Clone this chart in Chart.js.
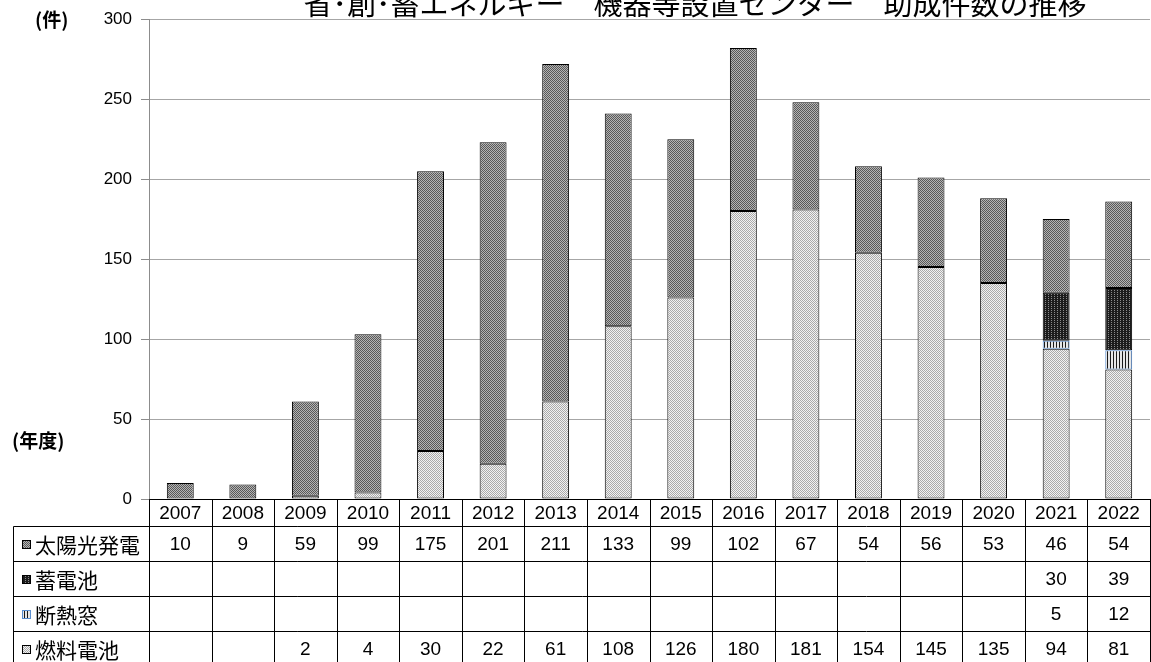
<!DOCTYPE html>
<html lang="ja">
<head>
<meta charset="utf-8">
<title>助成件数の推移</title>
<script src="https://cdn.jsdelivr.net/npm/chart.js@4"></script>
<style>
  html, body { margin: 0; padding: 0; background: #fff; }
  canvas { display: block; }
</style>
</head>
<body>
<canvas id="chart" width="1151" height="662"></canvas>
<script>
// 年度ごとの助成件数
const years = ['2007', '2008', '2009', '2010', '2011', '2012', '2013', '2014',
               '2015', '2016', '2017', '2018', '2019', '2020', '2021', '2022'];
const solar    = [10, 9, 59, 99, 175, 201, 211, 133, 99, 102, 67, 54, 56, 53, 46, 54];
const battery  = [null, null, null, null, null, null, null, null, null, null, null, null, null, null, 30, 39];
const windows  = [null, null, null, null, null, null, null, null, null, null, null, null, null, null, 5, 12];
const fuelCell = [null, null, 2, 4, 30, 22, 61, 108, 126, 180, 181, 154, 145, 135, 94, 81];
const yTicks = [0, 50, 100, 150, 200, 250, 300];

const titleText = '省･創･蓄エネルギー　機器等設置センター　助成件数の推移';

// small bitmap fills, like the hatched fills of an office chart
function makePattern(w, h, bg, fg, dots) {
  const c = document.createElement('canvas');
  c.width = w; c.height = h;
  const g = c.getContext('2d');
  g.fillStyle = bg;
  g.fillRect(0, 0, w, h);
  g.fillStyle = fg;
  dots.forEach(([px, py]) => g.fillRect(px, py, 1, 1));
  return g.createPattern(c, 'repeat');
}

const ctx = document.getElementById('chart').getContext('2d');
const fill = {
  solar: makePattern(2, 2, '#b4b4b4', '#585858', [[0, 0], [1, 1]]),
  battery: makePattern(3, 2, '#1c1c1c', '#8c8c8c', [[1, 0]]),
  windows: makePattern(3, 1, '#e6e6e6', '#1a1a1a', [[0, 0]]),
  fuel: makePattern(2, 2, '#f2f2f2', '#aaaaaa', [[0, 0], [1, 1]])
};

// rows of the data table, top to bottom
const tableRows = [
  { name: '太陽光発電', values: solar, fill: fill.solar, border: '#000' },
  { name: '蓄電池', values: battery, fill: fill.battery, border: '#000' },
  { name: '断熱窓', values: windows, fill: fill.windows, border: '#5b8fd0' },
  { name: '燃料電池', values: fuelCell, fill: fill.fuel, border: '#000' }
];

const numFont = '19px "Liberation Sans", Arial, sans-serif';
const jpFont = '"Noto Sans CJK JP", "Noto Sans", sans-serif';

const tablePlugin = {
  id: 'dataTable',
  afterDraw(chart) {
    const c = chart.ctx;
    const area = chart.chartArea;
    const xs = chart.scales.x;
    const W = chart.width;
    const colW = (area.right - area.left) / years.length;
    const top = Math.round(area.bottom) + 0.5;
    const yearH = 27, rowH = 35, tableLeft = 13.5;
    const rowsTop = top + yearH;
    const bottom = rowsTop + rowH * tableRows.length;

    c.save();
    c.strokeStyle = '#000';
    c.lineWidth = 1;
    c.beginPath();
    c.moveTo(Math.round(area.left) + 0.5, top); c.lineTo(W, top);
    for (let r = 0; r <= tableRows.length; r++) {
      const y = rowsTop + r * rowH;
      c.moveTo(tableLeft, y); c.lineTo(W, y);
    }
    c.moveTo(tableLeft, rowsTop); c.lineTo(tableLeft, bottom);
    for (let i = 0; i <= years.length; i++) {
      const x = Math.round(xs.getPixelForTick(Math.min(i, years.length - 1)) + (i === years.length ? colW / 2 : -colW / 2)) + 0.5;
      c.moveTo(x, top); c.lineTo(x, bottom);
    }
    c.stroke();

    c.fillStyle = '#000';
    c.textAlign = 'center';
    c.textBaseline = 'middle';
    c.font = numFont;
    years.forEach((yr, i) => {
      const cx = xs.getPixelForTick(i);
      c.fillText(yr, cx, top + yearH / 2 + 1);
      tableRows.forEach((row, r) => {
        const v = row.values[i];
        if (v !== null) c.fillText(String(v), cx, rowsTop + r * rowH + rowH / 2 + 1);
      });
    });

    // legend keys and series names
    c.textAlign = 'left';
    c.font = '21px ' + jpFont;
    tableRows.forEach((row, r) => {
      const cy = rowsTop + r * rowH + rowH / 2;
      c.fillStyle = row.fill;
      c.fillRect(22, Math.round(cy - 4), 9, 9);
      c.strokeStyle = row.border;
      c.strokeRect(22.5, Math.round(cy - 4) + 0.5, 8, 8);
      c.fillStyle = '#000';
      c.fillText(row.name, 35, cy + 1);
    });

    // unit and category captions
    c.font = 'bold 19px ' + jpFont;
    c.fillText('(件)', 35, 20);
    c.fillText('(年度)', 12, 441);

    c.font = '29px ' + jpFont;
    c.textAlign = 'center';
    c.fillText(titleText, 695, 4);
    c.restore();
  }
};

// black zero line drawn over the grid
const baselinePlugin = {
  id: 'baseline',
  afterDatasetsDraw(chart) {
    const c = chart.ctx;
    const y = Math.round(chart.scales.y.getPixelForValue(0)) + 0.5;
    c.save();
    c.strokeStyle = '#000';
    c.beginPath();
    c.moveTo(Math.round(chart.chartArea.left) + 0.5, y);
    c.lineTo(chart.width, y);
    c.stroke();
    c.restore();
  }
};

function barSet(label, data, bg, border) {
  return {
    label, data,
    backgroundColor: bg,
    borderColor: border,
    borderWidth: 1,
    borderSkipped: false,
    barPercentage: 0.43,
    categoryPercentage: 1.0
  };
}

new Chart(ctx, {
  type: 'bar',
  data: {
    labels: years,
    // stacked bottom to top
    datasets: [
      barSet('燃料電池', fuelCell, fill.fuel, '#000'),
      barSet('断熱窓', windows, fill.windows, '#5b8fd0'),
      barSet('蓄電池', battery, fill.battery, '#000'),
      barSet('太陽光発電', solar, fill.solar, '#000')
    ]
  },
  options: {
    responsive: false,
    animation: false,
    layout: { padding: { top: 19, bottom: 163, right: 1, left: 0 } },
    plugins: {
      legend: { display: false },
      tooltip: { enabled: false },
      title: { display: false }
    },
    scales: {
      x: {
        stacked: true,
        display: false,
        grid: { display: false }
      },
      y: {
        stacked: true,
        min: 0,
        max: 300,
        afterFit(scale) { scale.width = 149; },
        afterBuildTicks(scale) { scale.ticks = yTicks.map(v => ({ value: v })); },
        border: { display: true, color: '#8c8c8c' },
        grid: { color: '#a6a6a6', tickLength: 8, tickColor: '#8c8c8c' },
        ticks: {
          padding: 9,
          color: '#000',
          font: { family: '"Liberation Sans", Arial, sans-serif', size: 17 }
        }
      }
    }
  },
  plugins: [baselinePlugin, tablePlugin]
});
</script>
</body>
</html>
